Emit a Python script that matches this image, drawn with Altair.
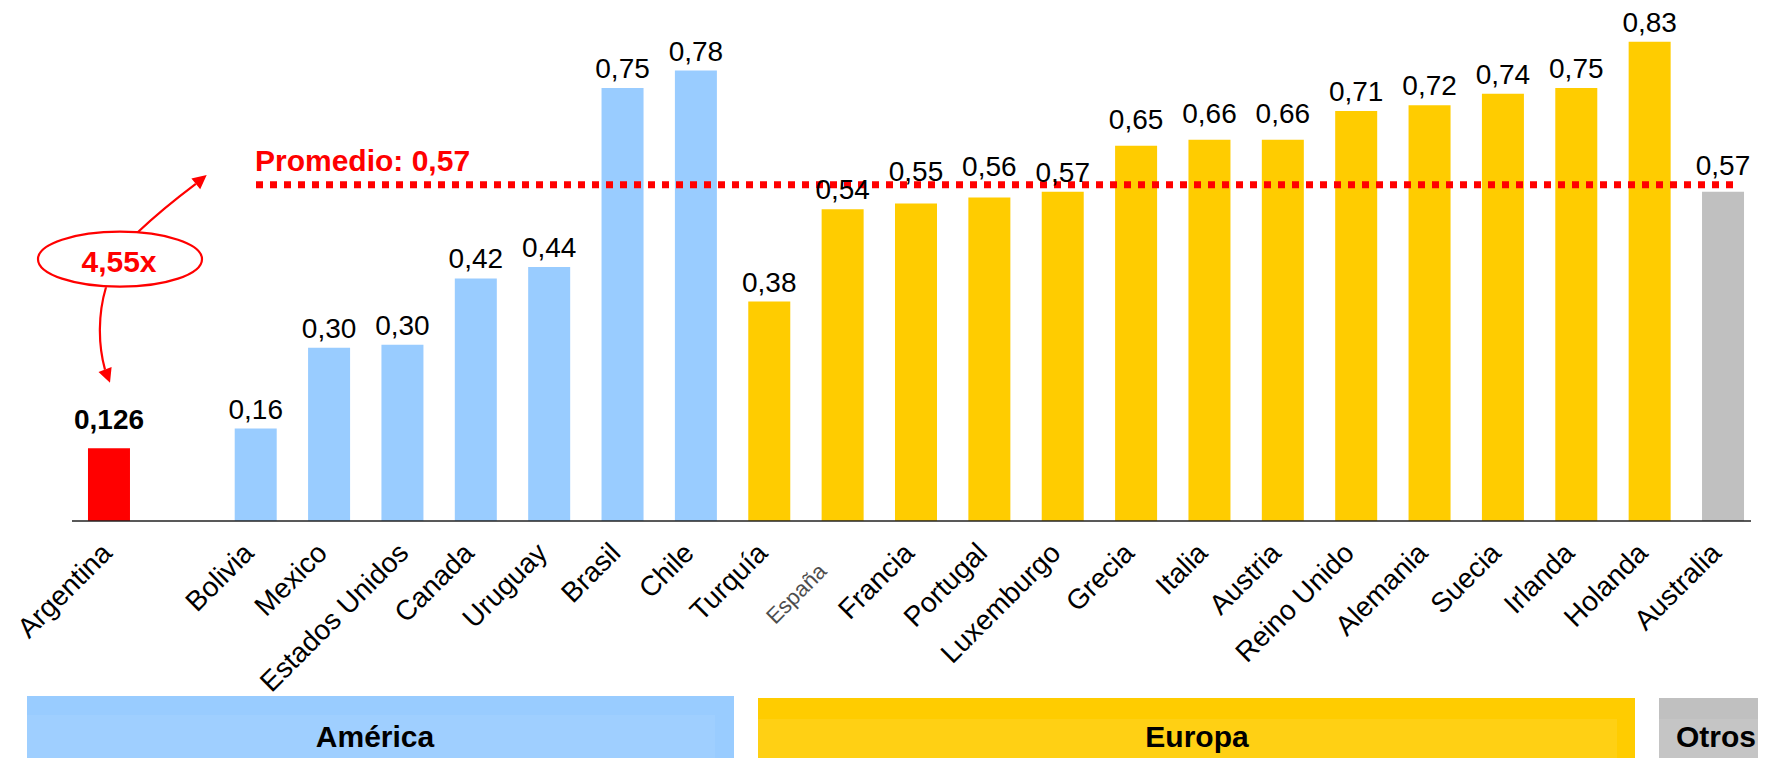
import altair as alt
import pandas as pd

# ---------------- data ----------------
countries = ["Argentina", "Bolivia", "Mexico", "Estados Unidos", "Canada", "Uruguay", "Brasil", "Chile",
             "Turquía", "España", "Francia", "Portugal", "Luxemburgo", "Grecia", "Italia", "Austria",
             "Reino Unido", "Alemania", "Suecia", "Irlanda", "Holanda", "Australia"]
values = [0.126, 0.16, 0.30, 0.305, 0.42, 0.44, 0.75, 0.78,
          0.38, 0.54, 0.55, 0.56, 0.57, 0.65, 0.66, 0.66,
          0.71, 0.72, 0.74, 0.75, 0.83, 0.57]
value_labels = ["0,126", "0,16", "0,30", "0,30", "0,42", "0,44", "0,75", "0,78",
                "0,38", "0,54", "0,55", "0,56", "0,57", "0,65", "0,66", "0,66",
                "0,71", "0,72", "0,74", "0,75", "0,83", "0,57"]
regions = ["Argentina"] + ["América"] * 7 + ["Europa"] * 13 + ["Otros"]
region_names = ["América", "Europa", "Otros"]
promedio = 0.57
promedio_label = "Promedio: 0,57"
ratio_label = "4,55x"

# ---------------- layout / style ----------------
FONT = "Liberation Sans"
W, H = 1750, 750
BASE_Y = 513
PX_PER_UNIT = 577.5
x_domain = ["Argentina", " "] + countries[1:]

df = pd.DataFrame({"pais": countries, "valor": values, "etiqueta": value_labels, "region": regions})
one = pd.DataFrame({"k": [0]})

xscale = alt.Scale(domain=x_domain, range=[64.3, 1751.7], paddingInner=0.4275, paddingOuter=0.21375)
yscale = alt.Scale(domain=[0, BASE_Y / PX_PER_UNIT], range=[BASE_Y, 0], nice=False, zero=True)
X = alt.X("pais:N", scale=xscale, axis=None)
Y = alt.Y("valor:Q", scale=yscale, axis=None)

color = alt.Color("region:N", legend=None,
                  scale=alt.Scale(domain=["Argentina", "América", "Europa", "Otros"],
                                  range=["#FF0000", "#99CCFF", "#FFCC00", "#C0C0C0"]))

bars = alt.Chart(df).mark_bar().encode(x=X, y=Y, color=color)

lift_groups = [
    (["Argentina"], 19, "bold"),
    (["Grecia", "Italia", "Austria", "Australia"], 17, "normal"),
    (["Francia", "Portugal"], 22, "normal"),
]
special = [c for g in lift_groups for c in g[0]]
label_layers = []
for names, lift, weight in lift_groups:
    label_layers.append(
        alt.Chart(df).transform_filter(alt.FieldOneOfPredicate(field="pais", oneOf=names))
        .mark_text(dy=-lift, baseline="alphabetic", fontSize=28, font=FONT, fontWeight=weight, color="black")
        .encode(x=X, y=Y, text="etiqueta:N"))
label_layers.append(
    alt.Chart(df).transform_filter(~alt.FieldOneOfPredicate(field="pais", oneOf=special))
    .mark_text(dy=-10, baseline="alphabetic", fontSize=28, font=FONT, color="black")
    .encode(x=X, y=Y, text="etiqueta:N"))

# tick-label horizontal nudges (px)
label_shift_groups = [
    (["Argentina"], -1),
    (["Estados Unidos"], 2),
]
shifted = [c for g in label_shift_groups for c in g[0]] + ["España"]
xlabel_layers = [
    alt.Chart(df).transform_filter(~alt.FieldOneOfPredicate(field="pais", oneOf=shifted))
    .mark_text(angle=315, align="right", baseline="middle", fontSize=28, font=FONT, color="black",
               xOffset=-6)
    .encode(x=X, y=alt.value(541), text="pais:N")
]
for names, off in label_shift_groups:
    xlabel_layers.append(
        alt.Chart(df).transform_filter(alt.FieldOneOfPredicate(field="pais", oneOf=names))
        .mark_text(angle=315, align="right", baseline="middle", fontSize=28, font=FONT, color="black",
                   xOffset=off)
        .encode(x=X, y=alt.value(541), text="pais:N"))
espana = (alt.Chart(df).transform_filter(alt.datum.pais == "España")
          .mark_text(angle=315, align="center", baseline="middle", fontSize=22, font=FONT,
                     color="#111111", opacity=0.75, xOffset=-46)
          .encode(x=X, y=alt.value(586), text="pais:N"))

baseline = (alt.Chart(pd.DataFrame({"v": [0.0]})).mark_rule(color="#222222", strokeWidth=1.5)
            .encode(y=alt.Y("v:Q", scale=yscale, axis=None), x=alt.value(64), x2=alt.value(1743)))

avg_df = pd.DataFrame({"v": [promedio], "t": [promedio_label]})
avg_rule = (alt.Chart(avg_df).mark_rule(color="#FF0000", strokeWidth=7, strokeDash=[7, 7], yOffset=-7)
            .encode(y=alt.Y("v:Q", scale=yscale, axis=None), x=alt.value(248), x2=alt.value(1729)))
avg_text = (alt.Chart(avg_df).mark_text(align="left", baseline="alphabetic", dy=-21, fontSize=30,
                                        fontWeight="bold", font=FONT, color="#FF0000")
            .encode(y=alt.Y("v:Q", scale=yscale, axis=None), x=alt.value(247), text="t:N"))

# annotation: ellipse + curved arrows (path offsets around the ellipse centre)
outline_path = ("M -82 0 C -82 -15.2 -45.3 -27.5 0 -27.5 C 45.3 -27.5 82 -15.2 82 0 "
                "C 82 15.2 45.3 27.5 0 27.5 C -45.3 27.5 -82 15.2 -82 0 Z "
                "M 18.3 -27.5 Q 42 -50 75.8 -75.4 "
                "M -14 28.1 C -22 55 -22 85 -15 110.4")
head_path = ("M 86.7 -84.2 L 80.2 -70 L 71.4 -80.8 Z "
             "M -10 123.5 L -8.4 107.9 L -21.5 112.9 Z")
ellipse = (alt.Chart(one).mark_point(shape=outline_path, size=4, filled=False, color="#FF0000",
                                     strokeWidth=2.2, opacity=1)
           .encode(x=alt.value(112), y=alt.value(251.2)))
heads = (alt.Chart(one).mark_point(shape=head_path, size=4, filled=True, color="#FF0000",
                                   strokeWidth=0, opacity=1)
         .encode(x=alt.value(112), y=alt.value(251.2)))
ratio_text = (alt.Chart(one).mark_text(text=ratio_label, align="center", baseline="alphabetic", fontSize=30,
                                       fontWeight="bold", font=FONT, color="#FF0000")
              .encode(x=alt.value(111), y=alt.value(263.7)))

# region panels
panel_style = {
    "América": dict(x=19, x2=726, y=688, tx2=707, ty=707, base="#99CCFF", tex="#9FCFFF", label_x=367),
    "Europa": dict(x=750, x2=1627, y=690, tx2=1609, ty=711, base="#FFCC00", tex="#FFD014", label_x=1189),
    "Otros": dict(x=1651, x2=1760, y=690, tx2=1760, ty=711, base="#C0C0C0", tex="#C5C5C5", label_x=1708),
}
panel_layers = []
for name in region_names:
    s = panel_style[name]
    panel_layers.append(alt.Chart(one).mark_rect(color=s["base"]).encode(
        x=alt.value(s["x"]), x2=alt.value(s["x2"]), y=alt.value(s["y"]), y2=alt.value(H)))
    panel_layers.append(alt.Chart(one).mark_rect(color=s["tex"]).encode(
        x=alt.value(s["x"]), x2=alt.value(s["tx2"]), y=alt.value(s["ty"]), y2=alt.value(H)))
    panel_layers.append(alt.Chart(one).mark_text(text=name, align="center", baseline="alphabetic",
                                                 fontSize=30, fontWeight="bold", font=FONT, color="black")
                        .encode(x=alt.value(s["label_x"]), y=alt.value(739)))

chart = alt.layer(
    *panel_layers, bars, baseline, avg_rule, avg_text, *label_layers, *xlabel_layers, espana,
    ellipse, heads, ratio_text
).properties(
    width=W, height=H, autosize=alt.AutoSizeParams(type="none"), padding=0
).configure_view(stroke=None)

chart.save("out.html", embed_options={"renderer": "svg", "actions": False})
